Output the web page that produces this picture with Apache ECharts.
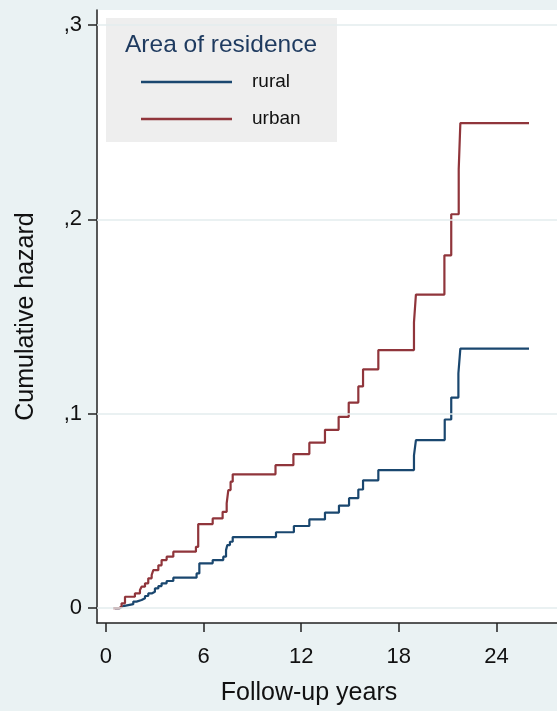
<!DOCTYPE html>
<html><head><meta charset="utf-8">
<script src="https://cdn.jsdelivr.net/npm/echarts@6/dist/echarts.min.js"></script>
<style>html,body{margin:0;padding:0;background:#EAF2F3;}#c{width:557px;height:711px;}</style>
</head><body><div id="c"></div>
<script>
const xTicks = [0, 6, 12, 18, 24];
const yTicks = [0, 0.1, 0.2, 0.3];
const seriesNames = ['rural', 'urban'];
const legendTitle = 'Area of residence';
const xTitle = 'Follow-up years';
const yTitle = 'Cumulative hazard';

const ruralTime = [0.55, 0.86, 1.07, 1.68, 1.88, 2.19, 2.40, 2.60, 2.81, 3.01,
  3.22, 3.42, 3.73, 4.14, 5.57, 5.74, 6.56, 7.21, 7.38, 7.46,
  7.62, 7.79, 10.45, 11.55, 12.5, 13.46, 14.32, 14.94, 15.51, 15.8,
  16.74, 18.93, 19.05, 20.82, 21.22, 21.66, 21.78, 26];
const ruralHazard = [0, 0.001, 0.002, 0.0033, 0.0041, 0.005, 0.0062, 0.0075, 0.0084, 0.0101,
  0.0113, 0.0127, 0.0139, 0.0156, 0.0178, 0.023, 0.0247, 0.0264, 0.0298, 0.0324,
  0.0341, 0.0365, 0.039, 0.0422, 0.0456, 0.0491, 0.0527, 0.0565, 0.061, 0.0657,
  0.071, 0.0785, 0.0864, 0.097, 0.1083, 0.1208, 0.1335, 0.1335];

const urbanTime = [0.45, 0.82, 0.96, 1.17, 1.78, 2.09, 2.19, 2.40, 2.60, 2.81,
  2.91, 3.22, 3.42, 3.73, 4.14, 5.53, 5.67, 6.56, 7.17, 7.42,
  7.52, 7.66, 7.79, 10.42, 11.52, 12.5, 13.46, 14.3, 14.92, 15.51,
  15.8, 16.74, 18.93, 19.05, 20.8, 21.22, 21.68, 21.78, 26];
const urbanHazard = [0, 0.0008, 0.0024, 0.0058, 0.0075, 0.0093, 0.011, 0.0127, 0.0153, 0.017,
  0.0195, 0.022, 0.0247, 0.0264, 0.029, 0.0315, 0.0432, 0.0461, 0.0495, 0.0538,
  0.0607, 0.065, 0.0688, 0.0735, 0.0792, 0.0851, 0.0917, 0.0984, 0.1057, 0.114,
  0.1228, 0.1327, 0.147, 0.1613, 0.1815, 0.2026, 0.2257, 0.2495, 0.2495];

const FONT = '"Liberation Sans", Arial, sans-serif';
const zip = (a, b) => a.map((v, i) => [v, b[i]]);

const chart = echarts.init(document.getElementById('c'), null, {renderer: 'canvas'});
chart.setOption({
  animation: false,
  backgroundColor: '#EAF2F3',
  textStyle: {fontFamily: FONT},
  grid: {left: 97, top: 10, right: 0, bottom: 88, show: true, backgroundColor: '#ffffff', borderWidth: 0},
  xAxis: {
    type: 'value', min: -0.55, max: 27.72,
    axisLine: {onZero: false, lineStyle: {color: '#222', width: 1.5}},
    axisTick: {customValues: xTicks, length: 9, lineStyle: {color: '#222', width: 1.5}},
    axisLabel: {customValues: xTicks, margin: 23, fontSize: 22, color: '#111', fontFamily: FONT},
    splitLine: {show: false}
  },
  yAxis: {
    type: 'value', min: -0.0077, max: 0.3077,
    name: yTitle, nameLocation: 'middle', nameGap: 58,
    nameTextStyle: {fontSize: 25, color: '#111', fontFamily: FONT},
    axisLine: {onZero: false, lineStyle: {color: '#222', width: 1.5}},
    axisTick: {customValues: yTicks, length: 9, lineStyle: {color: '#222', width: 1.5}},
    axisLabel: {customValues: yTicks, margin: 15, fontSize: 22, color: '#111', fontFamily: FONT,
      formatter: v => v === 0 ? '0' : ',' + String(Math.round(v * 10))},
    splitLine: {show: false}
  },
  legend: {
    orient: 'vertical', left: 136, top: 67, icon: 'rect',
    itemWidth: 91, itemHeight: 2.5, itemGap: 17, z: 6,
    textStyle: {fontSize: 19, lineHeight: 20, color: '#111', padding: [0, 0, 0, 15], fontFamily: FONT},
    data: seriesNames
  },
  graphic: [
    {type: 'rect', left: 106, top: 18, z: 3, shape: {width: 231, height: 124}, style: {fill: '#EEEEEE'}},
    {type: 'text', x: 125, y: 45.5, z: 4, style: {text: legendTitle, fill: '#1e3a5f', font: '24.5px ' + FONT, align: 'left', verticalAlign: 'middle'}},
    {type: 'text', x: 309, y: 693, z: 4, style: {text: xTitle, fill: '#111', font: '25px ' + FONT, align: 'center', verticalAlign: 'middle'}}
  ],
  series: [
    {
      type: 'line', name: '_grid', data: [], z: 1, silent: true,
      markLine: {silent: true, symbol: 'none', label: {show: false},
        lineStyle: {color: '#E3ECEE', width: 1.5, type: 'solid'},
        data: yTicks.map(v => ({yAxis: v}))}
    },
    {type: 'line', name: seriesNames[0], step: 'end', showSymbol: false, symbol: 'none', z: 2,
      lineStyle: {color: '#1a476f', width: 2.2}, itemStyle: {color: '#1a476f'}, data: zip(ruralTime, ruralHazard)},
    {type: 'line', name: seriesNames[1], step: 'end', showSymbol: false, symbol: 'none', z: 2,
      lineStyle: {color: '#90353b', width: 2.2}, itemStyle: {color: '#90353b'}, data: zip(urbanTime, urbanHazard)}
  ]
});
</script>
</body></html>
